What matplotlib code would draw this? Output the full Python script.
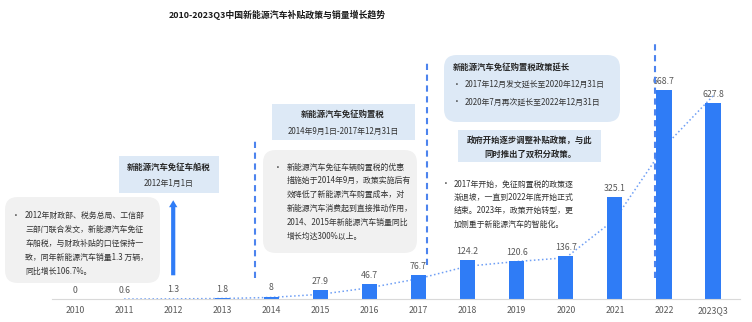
import numpy as np
import matplotlib.pyplot as plt
from matplotlib.patches import FancyBboxPatch, Rectangle

plt.rcParams['font.family'] = ['Noto Sans CJK SC', 'DejaVu Sans']

years = ['2010', '2011', '2012', '2013', '2014', '2015', '2016',
         '2017', '2018', '2019', '2020', '2021', '2022', '2023Q3']
sales = [0, 0.6, 1.3, 1.8, 8, 27.9, 46.7, 76.7, 124.2, 120.6, 136.7, 325.1, 668.7, 627.8]
labels = ['0', '0.6', '1.3', '1.8', '8', '27.9', '46.7', '76.7', '124.2',
          '120.6', '136.7', '325.1', '668.7', '627.8']
# dotted trend line (starts at 2011)
trend = [np.nan, 0, 0.5, 1.5, 5, 15, 36, 65, 105, 120, 132, 255, 486, 650]

BLUE = '#2f7cf6'
W, H = 752, 322


def fx(x):
    return x / W


def fy(y):
    return 1 - y / H


fig = plt.figure(figsize=(W / 100, H / 100), dpi=100)
ax = fig.add_axes([52 / W, 23 / H, 688 / W, 279 / H])
x = np.arange(len(years))

ax.plot(x, trend, linestyle=':', color='#6f9ff5', lw=1.1, zorder=1)
ax.bar(x, sales, width=0.31, color=BLUE, zorder=2)
for xi, v, t in zip(x, sales, labels):
    ax.annotate(t, (xi, v), xytext=(0, 3), textcoords='offset points',
                ha='center', va='bottom', fontsize=6.3, color='#595959')

ax.set_xlim(-0.47, 13.55)
ax.set_ylim(0, 893)
ax.set_xticks(x)
ax.set_xticklabels(years, fontsize=6.3, color='#595959')
ax.tick_params(axis='x', length=0, pad=5)
ax.set_yticks([])
for s in ['left', 'right', 'top']:
    ax.spines[s].set_visible(False)
ax.spines['bottom'].set_color('#d9d9d9')

# dashed policy markers
for xv, y0, y1 in [(3.67, 67, 515), (7.17, 109, 758), (11.82, 67, 829)]:
    ax.plot([xv, xv], [y0, y1], color='#4d84ee', lw=1.5, dashes=(3, 2.2), zorder=3)

# arrow at 2012
ax.annotate('', xy=(2, 325), xytext=(2, 67),
            arrowprops=dict(arrowstyle='simple,head_width=0.6,head_length=0.5,tail_width=0.3',
                            mutation_scale=10, color=BLUE, lw=0))

fig.text(fx(277), fy(15), '2010-2023Q3中国新能源汽车补贴政策与销量增长趋势',
         ha='center', va='center', fontsize=6.4, fontweight='bold', color='#1a1a1a')


def rbox(x0, y0, x1, y1, color, rounded=True):
    if rounded:
        p = FancyBboxPatch((fx(x0), fy(y1)), fx(x1 - x0), (y1 - y0) / H,
                           boxstyle='round,pad=0,rounding_size=0.017',
                           transform=fig.transFigure, fc=color, ec='none',
                           mutation_aspect=W / H, zorder=0)
    else:
        p = Rectangle((fx(x0), fy(y1)), fx(x1 - x0), (y1 - y0) / H,
                      transform=fig.transFigure, fc=color, ec='none', zorder=0)
    fig.patches.append(p)


def lines(x0, y0, dy, rows, bullet_x=None, size=5.7, color='#333333', **kw):
    if bullet_x is not None:
        fig.text(fx(bullet_x), fy(y0), '•', ha='left', va='center', fontsize=size, color=color)
    for i, r in enumerate(rows):
        fig.text(fx(x0), fy(y0 + i * dy), r, ha='left', va='center',
                 fontsize=size, color=color, **kw)


LBLUE = '#dde9f6'
GREY = '#f1f1f1'

# 2012 vehicle & vessel tax
rbox(119, 156, 219, 193, LBLUE, rounded=False)
fig.text(fx(169), fy(167), '新能源汽车免征车船税', ha='center', va='center',
         fontsize=6, fontweight='bold', color='#262626')
fig.text(fx(169), fy(183), '2012年1月1日', ha='center', va='center',
         fontsize=5.7, color='#333333')
rbox(5, 197, 160, 283, GREY)
lines(25, 215, 14.2, ['2012年财政部、税务总局、工信部',
                      '三部门联合发文，新能源汽车免征',
                      '车船税，与财政补贴的口径保持一',
                      '致，同年新能源汽车销量1.3 万辆，',
                      '同比增长106.7%。'], bullet_x=12)

# 2014 purchase tax
rbox(272, 104, 415, 140, LBLUE, rounded=False)
fig.text(fx(343), fy(114), '新能源汽车免征购置税', ha='center', va='center',
         fontsize=6, fontweight='bold', color='#262626')
fig.text(fx(343), fy(131), '2014年9月1日-2017年12月31日', ha='center', va='center',
         fontsize=5.7, color='#333333')
rbox(263, 150, 417, 253, GREY)
lines(287, 167, 13.9, ['新能源汽车免征车辆购置税的优惠',
                       '措施始于2014年9月，政策实施后有',
                       '效降低了新能源汽车购置成本，对',
                       '新能源汽车消费起到直接推动作用，',
                       '2014、2015年新能源汽车销量同比',
                       '增长均达300%以上。'], bullet_x=274)

# extension box
rbox(444, 55, 620, 122, LBLUE)
fig.text(fx(453), fy(67), '新能源汽车免征购置税政策延长', ha='left', va='center',
         fontsize=6, fontweight='bold', color='#262626')
lines(465, 84, 0, ['2017年12月发文延长至2020年12月31日'], bullet_x=453)
lines(465, 102, 0, ['2020年7月再次延长至2022年12月31日'], bullet_x=453)

rbox(458, 130, 601, 162, LBLUE, rounded=False)
fig.text(fx(530), fy(140), '政府开始逐步调整补贴政策，与此', ha='center', va='center',
         fontsize=6, fontweight='bold', color='#262626')
fig.text(fx(530), fy(154), '同时推出了双积分政策。', ha='center', va='center',
         fontsize=6, fontweight='bold', color='#262626')

lines(454, 184, 13.4, ['2017年开始，免征购置税的政策逐',
                       '渐退坡，一直到2022年底开始正式',
                       '结束。2023年，政策开始转型，更',
                       '加侧重于新能源汽车的智能化。'], bullet_x=442)

fig.savefig('out.png', dpi=100)
